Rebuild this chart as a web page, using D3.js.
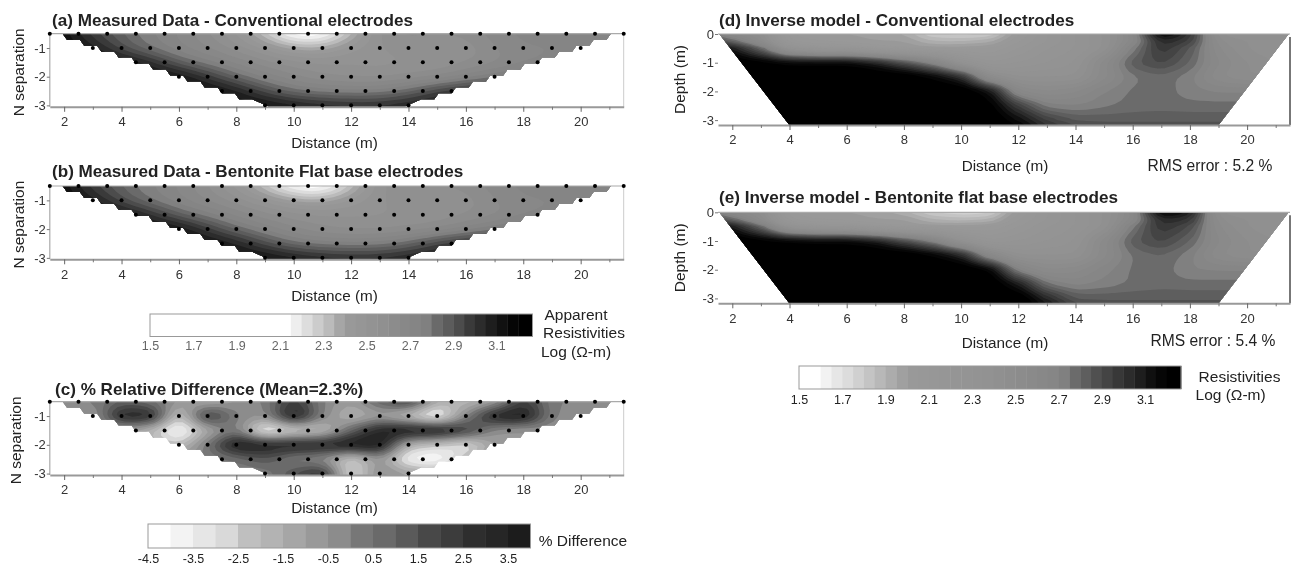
<!DOCTYPE html>
<html>
<head>
<meta charset="utf-8">
<script src="https://cdn.jsdelivr.net/npm/d3@7"></script>
<style>
  html, body { margin: 0; padding: 0; background: #fff; }
  svg { display: block; font-family: "Liberation Sans", Arial, sans-serif; filter: blur(0.45px); }
</style>
</head>
<body>
<svg id="chart" width="1292" height="569"></svg>
<script>
// grid columns shared by every section (distance in m)
const distanceCols = [1, 2, 3, 4, 5, 6, 7, 8, 9, 10, 11, 12, 13, 14, 15, 16, 17, 18, 19, 20, 21, 22];
const separationRows = [-0.5, -1, -1.5, -2, -2.5, -3];
const depthRows = [0, -0.25, -0.5, -1, -1.5, -2, -2.5, -3, -3.2];

const measuredA = [
  [3.15, 3.15, 2.95, 2.85, 2.75, 2.7, 2.6, 2.5, 2.28, 2.05, 2.05, 2.32, 2.58, 2.62, 2.6, 2.62, 2.68, 2.72, 2.7, 2.7, 2.72, 2.72],
  [3.15, 3.15, 3.1, 2.9, 2.78, 2.7, 2.65, 2.58, 2.5, 2.38, 2.38, 2.5, 2.55, 2.58, 2.55, 2.55, 2.65, 2.7, 2.7, 2.7, 2.7, 2.7],
  [3.15, 3.15, 3.15, 3.15, 3.05, 2.85, 2.75, 2.68, 2.62, 2.58, 2.55, 2.55, 2.52, 2.55, 2.55, 2.6, 2.62, 2.68, 2.7, 2.75, 2.75, 2.75],
  [3.15, 3.15, 3.15, 3.15, 3.15, 3.15, 3.0, 2.82, 2.72, 2.65, 2.6, 2.58, 2.58, 2.6, 2.62, 2.7, 2.78, 2.85, 2.85, 2.85, 2.85, 2.85],
  [3.15, 3.15, 3.15, 3.15, 3.15, 3.15, 3.15, 3.1, 2.92, 2.8, 2.76, 2.75, 2.75, 2.83, 2.98, 3.05, 3.05, 3.05, 3.05, 3.05, 3.05, 3.05],
  [3.15, 3.15, 3.15, 3.15, 3.15, 3.15, 3.15, 3.15, 3.15, 3.1, 3.06, 3.04, 3.04, 3.08, 3.1, 3.1, 3.1, 3.1, 3.1, 3.1, 3.1, 3.1]
];
const measuredB = [
  [3.15, 3.15, 2.95, 2.84, 2.75, 2.7, 2.6, 2.48, 2.28, 2.08, 2.03, 2.3, 2.56, 2.6, 2.6, 2.62, 2.68, 2.72, 2.7, 2.7, 2.72, 2.72],
  [3.15, 3.15, 3.1, 2.9, 2.78, 2.7, 2.64, 2.58, 2.5, 2.4, 2.38, 2.48, 2.55, 2.58, 2.55, 2.56, 2.65, 2.7, 2.7, 2.7, 2.7, 2.7],
  [3.15, 3.15, 3.15, 3.15, 3.03, 2.85, 2.76, 2.68, 2.62, 2.58, 2.56, 2.55, 2.54, 2.55, 2.56, 2.6, 2.62, 2.68, 2.7, 2.75, 2.75, 2.75],
  [3.15, 3.15, 3.15, 3.15, 3.15, 3.15, 2.98, 2.82, 2.73, 2.65, 2.6, 2.58, 2.58, 2.6, 2.62, 2.7, 2.78, 2.85, 2.85, 2.85, 2.85, 2.85],
  [3.15, 3.15, 3.15, 3.15, 3.15, 3.15, 3.15, 3.08, 2.92, 2.8, 2.76, 2.75, 2.76, 2.83, 2.98, 3.05, 3.05, 3.05, 3.05, 3.05, 3.05, 3.05],
  [3.15, 3.15, 3.15, 3.15, 3.15, 3.15, 3.15, 3.15, 3.15, 3.1, 3.06, 3.04, 3.04, 3.08, 3.1, 3.1, 3.1, 3.1, 3.1, 3.1, 3.1, 3.1]
];
const differenceC = [
  [0, 0, 0, 1, 0.5, -0.5, -1.5, -0.5, 0, 2.5, 0, -1, 1, 2.5, -1.5, -2, -1, 2.5, 0, 0, 0, 0],
  [0, 0, -1, 3.5, 3.5, -3, 3, 0, -0.5, 4, 0, -2, -1, -2.5, -4.5, 0, 3.5, 4, 0, -0.5, 0, 0],
  [-1, -1, -1, -1, -2, -4.5, -1.5, 0.5, -4.5, -3, -2.5, 1, 3.5, 4, 4, 2.5, -0.5, -1, -0.5, 0, 0, 0],
  [-1, -1, -1, -1, -1.5, -2.5, 0.5, 4, 3.5, 3.5, 3.5, 4, 4, -2, -2.5, -3.5, -1, 0, 0, 0, 0, 0],
  [0, 0, 0, 0, 0, 0, 0, 0.5, 1.5, 0, -0.5, -3, -0.5, -4, -4.5, -2, 0, 0, 0, 0, 0, 0],
  [0, 0, 0, 0, 0, 0, 0, 0, 0, 1.5, 3, -3.5, 0, -1, -1, 0, 0, 0, 0, 0, 0, 0]
];
const inverseD = [
  [2.8, 2.6, 2.5, 2.05, 2.0, 2.0, 1.98, 1.95, 1.8, 1.78, 1.8, 2.05, 2.2, 2.3, 2.4, 2.62, 3.2, 3.0, 2.45, 2.4, 2.4, 2.4],
  [3.0, 2.8, 2.55, 2.1, 2.05, 2.03, 2.0, 2.0, 1.9, 1.9, 1.93, 2.1, 2.2, 2.3, 2.4, 2.62, 3.05, 2.95, 2.5, 2.45, 2.4, 2.4],
  [3.3, 3.1, 2.8, 2.3, 2.2, 2.2, 2.1, 2.05, 2.02, 2.02, 2.05, 2.15, 2.25, 2.3, 2.4, 2.72, 3.0, 2.85, 2.55, 2.45, 2.4, 2.4],
  [3.3, 3.3, 3.25, 3.2, 3.2, 3.2, 3.1, 2.9, 2.7, 2.35, 2.2, 2.25, 2.3, 2.35, 2.58, 2.84, 2.92, 2.8, 2.6, 2.5, 2.45, 2.4],
  [3.3, 3.3, 3.3, 3.3, 3.3, 3.3, 3.3, 3.3, 3.2, 3.05, 2.5, 2.4, 2.4, 2.4, 2.58, 2.74, 2.78, 2.72, 2.55, 2.5, 2.5, 2.5],
  [3.3, 3.3, 3.3, 3.3, 3.3, 3.3, 3.3, 3.3, 3.3, 3.3, 3.15, 2.6, 2.55, 2.6, 2.7, 2.76, 2.78, 2.72, 2.7, 2.7, 2.7, 2.7],
  [3.3, 3.3, 3.3, 3.3, 3.3, 3.3, 3.3, 3.3, 3.3, 3.3, 3.25, 2.95, 2.72, 2.7, 2.74, 2.77, 2.78, 2.77, 2.77, 2.77, 2.77, 2.77],
  [3.3, 3.3, 3.3, 3.3, 3.3, 3.3, 3.3, 3.3, 3.3, 3.3, 3.3, 3.15, 2.95, 2.85, 2.84, 2.84, 2.84, 2.84, 2.84, 2.84, 2.84, 2.84],
  [3.3, 3.3, 3.3, 3.3, 3.3, 3.3, 3.3, 3.3, 3.3, 3.3, 3.3, 3.2, 3.0, 2.9, 2.88, 2.88, 2.88, 2.88, 2.88, 2.88, 2.88, 2.88]
];
const inverseE = [
  [2.8, 2.6, 2.5, 2.05, 2.0, 2.0, 1.98, 1.92, 1.8, 1.76, 1.78, 2.05, 2.2, 2.3, 2.4, 2.6, 3.2, 3.1, 2.45, 2.4, 2.4, 2.4],
  [3.0, 2.8, 2.55, 2.1, 2.05, 2.03, 2.0, 2.0, 1.9, 1.88, 1.9, 2.1, 2.2, 2.3, 2.4, 2.62, 3.05, 3.0, 2.5, 2.45, 2.4, 2.4],
  [3.3, 3.1, 2.8, 2.3, 2.2, 2.2, 2.1, 2.05, 2.02, 2.02, 2.05, 2.15, 2.25, 2.3, 2.4, 2.74, 3.0, 2.9, 2.55, 2.45, 2.4, 2.4],
  [3.3, 3.3, 3.25, 3.22, 3.2, 3.2, 3.12, 2.92, 2.72, 2.38, 2.2, 2.25, 2.3, 2.35, 2.58, 2.84, 2.92, 2.8, 2.6, 2.5, 2.45, 2.4],
  [3.3, 3.3, 3.3, 3.3, 3.3, 3.3, 3.3, 3.3, 3.22, 3.08, 2.6, 2.4, 2.4, 2.4, 2.58, 2.76, 2.8, 2.72, 2.55, 2.5, 2.5, 2.5],
  [3.3, 3.3, 3.3, 3.3, 3.3, 3.3, 3.3, 3.3, 3.3, 3.3, 3.22, 2.68, 2.55, 2.58, 2.68, 2.76, 2.78, 2.7, 2.7, 2.7, 2.7, 2.7],
  [3.3, 3.3, 3.3, 3.3, 3.3, 3.3, 3.3, 3.3, 3.3, 3.3, 3.3, 3.1, 2.75, 2.68, 2.72, 2.76, 2.78, 2.77, 2.77, 2.77, 2.77, 2.77],
  [3.3, 3.3, 3.3, 3.3, 3.3, 3.3, 3.3, 3.3, 3.3, 3.3, 3.3, 3.3, 3.05, 2.85, 2.84, 2.84, 2.84, 2.84, 2.84, 2.84, 2.84, 2.84],
  [3.3, 3.3, 3.3, 3.3, 3.3, 3.3, 3.3, 3.3, 3.3, 3.3, 3.3, 3.3, 3.1, 2.9, 2.88, 2.88, 2.88, 2.88, 2.88, 2.88, 2.88, 2.88]
];

// colour bar classes, lower edge of every cell
const apparentLevels = [1.5, 1.55, 1.6, 1.65, 1.7, 1.75, 1.8, 1.85, 1.9, 1.95, 2.0, 2.05, 2.1, 2.15, 2.2, 2.25, 2.3, 2.35, 2.4, 2.45, 2.5, 2.55, 2.6, 2.65, 2.7, 2.75, 2.8, 2.85, 2.9, 2.95, 3.0, 3.05, 3.1, 3.15, 3.2];
const apparentGrays = ["#fff", "#fff", "#fff", "#fff", "#fff", "#fff", "#fff", "#fff", "#fff", "#fff", "#fff", "#fff", "#fff", "#eee", "#ddd", "#ccc", "#bbb", "#a6a6a6", "#999", "#969696", "#939393", "#909090", "#8c8c8c", "#888", "#858585", "#808080", "#6a6a6a", "#5c5c5c", "#4c4c4c", "#3a3a3a", "#2c2c2c", "#1e1e1e", "#111", "#050505", "#000"];
const modelLevels = apparentLevels;
const modelGrays = ["#fff", "#fff", "#f2f2f2", "#e6e6e6", "#dcdcdc", "#d0d0d0", "#c4c4c4", "#b8b8b8", "#acacac", "#a0a0a0", "#999", "#989898", "#979797", "#969696", "#959595", "#949494", "#939393", "#929292", "#909090", "#8e8e8e", "#8c8c8c", "#8a8a8a", "#888", "#868686", "#808080", "#6b6b6b", "#5e5e5e", "#505050", "#444", "#383838", "#2c2c2c", "#1e1e1e", "#101010", "#060606", "#000"];
const differenceLevels = [-4.5, -4, -3.5, -3, -2.5, -2, -1.5, -1, -0.5, 0, 0.5, 1, 1.5, 2, 2.5, 3, 3.5];
const differenceGrays = ["#fff", "#f3f3f3", "#e6e6e6", "#d9d9d9", "#bfbfbf", "#b3b3b3", "#a6a6a6", "#999", "#8c8c8c", "#777", "#6a6a6a", "#5a5a5a", "#484848", "#3c3c3c", "#2e2e2e", "#262626", "#1c1c1c"];

// tick labels
const apparentTicks = [1.5, 1.7, 1.9, 2.1, 2.3, 2.5, 2.7, 2.9, 3.1];
const differenceTicks = [-4.5, -3.5, -2.5, -1.5, -0.5, 0.5, 1.5, 2.5, 3.5];
const distanceTicks = [2, 4, 6, 8, 10, 12, 14, 16, 18, 20];
const minorDistanceTicks = [3, 5, 7, 9, 11, 13, 15, 17, 19, 21];
const separationTicks = [-1, -2, -3];
const depthTicks = [0, -1, -2, -3];

// measuring points of the pseudosections
const pointRows = [
  { n: -0.5, x: [1.5, 2.5, 3.5, 4.5, 5.5, 6.5, 7.5, 8.5, 9.5, 10.5, 11.5, 12.5, 13.5, 14.5, 15.5, 16.5, 17.5, 18.5, 19.5, 20.5, 21.5] },
  { n: -1, x: [3, 4, 5, 6, 7, 8, 9, 10, 11, 12, 13, 14, 15, 16, 17, 18, 19, 20] },
  { n: -1.5, x: [4.5, 5.5, 6.5, 7.5, 8.5, 9.5, 10.5, 11.5, 12.5, 13.5, 14.5, 15.5, 16.5, 17.5, 18.5] },
  { n: -2, x: [6, 7, 8, 9, 10, 11, 12, 13, 14, 15, 16, 17] },
  { n: -2.5, x: [7.5, 8.5, 9.5, 10.5, 11.5, 12.5, 13.5, 14.5, 15.5] },
  { n: -3, x: [9, 10, 11, 12, 13, 14] }
];

// stepped outline of the pseudosection and the straight one of the model
const stairLevels = [-0.5, -0.71, -0.92, -1.13, -1.33, -1.54, -1.75, -1.96, -2.17, -2.38, -2.58, -2.79, -3.05];
const stairLeft = [1.95, 2.55, 3.15, 3.75, 4.35, 4.95, 5.55, 6.15, 6.75, 7.35, 7.95, 8.55, 9.15];
const stairRight = [21.05, 20.45, 19.85, 19.25, 18.65, 18.05, 17.45, 16.85, 16.25, 15.65, 15.05, 14.45, 13.85];
const modelOutlineX = [1.55, 4, 19, 21.45];
const modelOutlineY = [0, -3.17, -3.17, 0];

const svg = d3.select("#chart");

function addText(x, y, str, opts = {}) {
  return svg.append("text")
    .attr("x", x)
    .attr("y", y)
    .attr("text-anchor", opts.anchor || "start")
    .attr("font-size", opts.size || 15.5)
    .attr("font-weight", opts.weight || "normal")
    .attr("fill", opts.fill || "#222")
    .attr("transform", opts.rotate ? `rotate(${opts.rotate} ${x} ${y})` : null)
    .text(str);
}

function stairOutline() {
  const pts = [];
  const last = stairLevels.length - 1;
  for (let i = 0; i < last - 1; i++) {
    pts.push([stairLeft[i], stairLevels[i]]);
    pts.push([stairLeft[i] + 0.15, stairLevels[i + 1]]);
  }
  // the last step runs straight down to the base line
  pts.push([stairLeft[last - 1], stairLevels[last - 1]]);
  pts.push([stairLeft[last], stairLevels[last]]);
  pts.push([stairRight[last], stairLevels[last]]);
  pts.push([stairRight[last - 1], stairLevels[last - 1]]);
  for (let i = last - 2; i >= 0; i--) {
    pts.push([stairRight[i] - 0.15, stairLevels[i + 1]]);
    pts.push([stairRight[i], stairLevels[i]]);
  }
  return pts;
}

// the original is a gridded, smoothed map: repeat every node k times and blur
function refine(grid, k, radius) {
  const width = grid[0].length * k;
  const data = [];
  grid.forEach((r) => {
    for (let j = 0; j < k; j++) {
      r.forEach((v) => {
        for (let i = 0; i < k; i++) data.push(v);
      });
    }
  });
  d3.blur2({ data, width }, radius);
  return { data, width, height: grid.length * k };
}

function drawSection(c) {
  const x = d3.scaleLinear().domain([1.5, 21.5]).range(c.xRange);
  const y = d3.scaleLinear().domain(c.yDomain).range(c.yRange);

  const g = svg.append("g");
  const defs = g.append("defs");
  const line = d3.line().x((d) => x(d[0])).y((d) => y(d[1]));
  defs.append("clipPath").attr("id", c.id + "-clip")
    .append("path")
    .attr("d", line(c.outline) + "Z");

  const k = 4;
  const field = refine(c.grid, k, c.blur);

  // d3.contours puts grid node i at i + 0.5
  const col = d3.scaleLinear().domain(distanceCols.map((d, i) => i + 0.5)).range(distanceCols);
  const row = d3.scaleLinear().domain(c.rows.map((d, i) => i + 0.5)).range(c.rows);
  const path = d3.geoPath(d3.geoTransform({
    point(px, py) {
      this.stream.point(x(col(px / k)), y(row(py / k)));
    }
  }));

  const contours = d3.contours()
    .size([field.width, field.height])
    .thresholds(c.levels)(field.data);

  g.append("g")
    .attr("clip-path", `url(#${c.id}-clip)`)
    .selectAll("path")
    .data(contours)
    .join("path")
    .attr("d", path)
    .attr("fill", (d, i) => c.grays[i]);

  // frame
  const frame = g.append("g").attr("fill", "none").attr("stroke", "#aaa");
  frame.append("line").attr("x1", c.xRange[0]).attr("x2", c.xRange[1])
    .attr("y1", c.yRange[0]).attr("y2", c.yRange[0]).attr("stroke-width", 1.2);
  if (c.points) {
    frame.append("line").attr("x1", c.xRange[0]).attr("x2", c.xRange[0])
      .attr("y1", c.yRange[0]).attr("y2", c.yRange[1]).attr("stroke-width", 1.2);
    frame.append("line").attr("x1", c.xRange[1]).attr("x2", c.xRange[1])
      .attr("y1", c.yRange[0]).attr("y2", c.yRange[1]).attr("stroke", "#ccc");
  } else {
    frame.append("line").attr("x1", c.xRange[1]).attr("x2", c.xRange[1])
      .attr("y1", c.yRange[0] + 3).attr("y2", c.yRange[1]).attr("stroke", "#777").attr("stroke-width", 2);
  }

  // axes
  const bottom = g.append("g").attr("transform", `translate(0,${c.yRange[1]})`)
    .call(d3.axisBottom(x).tickValues(distanceTicks).tickSize(5).tickSizeOuter(0).tickPadding(5).tickFormat((d) => String(d)));
  bottom.selectAll("text").attr("font-size", 13).attr("font-family", "inherit").attr("fill", "#333");
  bottom.select(".domain").attr("stroke", "#999").attr("stroke-width", 2);
  bottom.selectAll("line").attr("stroke", "#666");
  const minor = g.append("g").attr("transform", `translate(0,${c.yRange[1]})`)
    .call(d3.axisBottom(x).tickValues(minorDistanceTicks).tickSize(3).tickSizeOuter(0).tickFormat(""));
  minor.select(".domain").remove();
  minor.selectAll("line").attr("stroke", "#777");

  const left = g.append("g").attr("transform", `translate(${c.xRange[0]},0)`)
    .call(d3.axisLeft(y).tickValues(c.yTicks).tickSize(3).tickPadding(1).tickFormat((d) => String(d)));
  left.selectAll("text").attr("font-size", 13).attr("font-family", "inherit").attr("fill", "#333");
  left.select(".domain").remove();
  left.selectAll("line").attr("stroke", "#777");

  // data points
  if (c.points) {
    g.append("g").selectAll("circle")
      .data(pointRows.flatMap((r) => r.x.map((v) => [v, r.n])))
      .join("circle")
      .attr("cx", (d) => x(d[0]))
      .attr("cy", (d) => y(d[1]))
      .attr("r", 2)
      .attr("fill", "#000");
  }

  addText(c.titleX, c.titleY, c.title, { size: 17.1, weight: "bold" });
  addText(c.labelX, c.labelY, "Distance (m)", { anchor: "middle", size: 15.3 });
  addText(c.yLabelX, (c.yRange[0] + c.yRange[1]) / 2 + (c.points ? 2 : 0), c.yLabel, { anchor: "middle", rotate: -90 });
  if (c.rms) addText(c.rmsX, c.labelY - (c.rmsUp || 0), c.rms, { anchor: "middle", size: 15.6 });
}

function drawBar(c) {
  const x = d3.scaleLinear().domain(c.domain).range(c.xRange);
  const g = svg.append("g");
  g.selectAll("rect")
    .data(c.levels)
    .join("rect")
    .attr("x", (d) => x(d))
    .attr("y", c.y)
    .attr("width", (d, i) => x(i < c.levels.length - 1 ? c.levels[i + 1] : c.domain[1]) - x(d) + 0.4)
    .attr("height", c.h)
    .attr("fill", (d, i) => c.grays[i]);
  g.append("rect")
    .attr("x", c.xRange[0]).attr("y", c.y)
    .attr("width", c.xRange[1] - c.xRange[0]).attr("height", c.h)
    .attr("fill", "none").attr("stroke", "#999").attr("stroke-width", 1);
  const ax = g.append("g").attr("transform", `translate(0,${c.y + c.h})`)
    .call(d3.axisBottom(x).tickValues(c.ticks).tickSize(0).tickPadding(c.pad).tickFormat((d) => d.toFixed(1)));
  ax.select(".domain").remove();
  ax.selectAll("text").attr("font-size", 12.5).attr("font-family", "inherit").attr("fill", c.labelFill);
}

const stair = stairOutline();
const modelOutline = modelOutlineX.map((d, i) => [d, modelOutlineY[i]]);
const leftX = [49.8, 623.7];
const rightX = [718, 1290];

drawSection({ id: "a", grid: measuredA, rows: separationRows, levels: apparentLevels, grays: apparentGrays, outline: stair, points: true, blur: 1.5,
  xRange: leftX, yDomain: [-0.5, -3.05], yRange: [33.7, 106.8], yTicks: separationTicks, yLabel: "N separation", yLabelX: 24,
  title: "(a) Measured Data - Conventional electrodes", titleX: 52, titleY: 26, labelX: 334.5, labelY: 148 });
drawSection({ id: "b", grid: measuredB, rows: separationRows, levels: apparentLevels, grays: apparentGrays, outline: stair, points: true, blur: 1.5,
  xRange: leftX, yDomain: [-0.5, -3.05], yRange: [186, 259.3], yTicks: separationTicks, yLabel: "N separation", yLabelX: 24,
  title: "(b) Measured Data - Bentonite Flat base electrodes", titleX: 52, titleY: 177, labelX: 334.5, labelY: 301 });
drawSection({ id: "c", grid: differenceC, rows: separationRows, levels: differenceLevels, grays: differenceGrays, outline: stair, points: true, blur: 1.1,
  xRange: leftX, yDomain: [-0.5, -3.05], yRange: [401.7, 475], yTicks: separationTicks, yLabel: "N separation", yLabelX: 21,
  title: "(c) % Relative Difference (Mean=2.3%)", titleX: 55, titleY: 394.5, labelX: 334.5, labelY: 513 });
drawSection({ id: "d", grid: inverseD, rows: depthRows, levels: modelLevels, grays: modelGrays, outline: modelOutline, points: false, blur: 1,
  xRange: rightX, yDomain: [0, -3.17], yRange: [34, 125], yTicks: depthTicks, yLabel: "Depth (m)", yLabelX: 685,
  title: "(d) Inverse model - Conventional electrodes", titleX: 719, titleY: 25.5, labelX: 1005, labelY: 171, rms: "RMS error : 5.2 %", rmsX: 1210 });
drawSection({ id: "e", grid: inverseE, rows: depthRows, levels: modelLevels, grays: modelGrays, outline: modelOutline, points: false, blur: 1,
  xRange: rightX, yDomain: [0, -3.17], yRange: [212.3, 303.3], yTicks: depthTicks, yLabel: "Depth (m)", yLabelX: 685,
  title: "(e) Inverse model - Bentonite flat base electrodes", titleX: 719, titleY: 203.3, labelX: 1005, labelY: 348, rms: "RMS error : 5.4 %", rmsX: 1213, rmsUp: 2 });

drawBar({ levels: apparentLevels, grays: apparentGrays, ticks: apparentTicks, domain: [1.5, 3.266], xRange: [150, 532.5], y: 314, h: 22.5, pad: 5, labelFill: "#666" });
drawBar({ levels: modelLevels, grays: modelGrays, ticks: apparentTicks, domain: [1.5, 3.266], xRange: [799, 1181], y: 366, h: 23, pad: 6, labelFill: "#222" });
drawBar({ levels: differenceLevels, grays: differenceGrays, ticks: differenceTicks, domain: [-4.5, 4], xRange: [148, 530.5], y: 524, h: 24, pad: 6, labelFill: "#222" });

addText(576, 320, "Apparent", { anchor: "middle" });
addText(584, 338, "Resistivities", { anchor: "middle" });
addText(576, 357, "Log (Ω-m)", { anchor: "middle" });
addText(583, 546, "% Difference", { anchor: "middle" });
addText(1239.5, 382, "Resistivities", { anchor: "middle" });
addText(1230.6, 400, "Log (Ω-m)", { anchor: "middle" });
</script>
</body>
</html>
